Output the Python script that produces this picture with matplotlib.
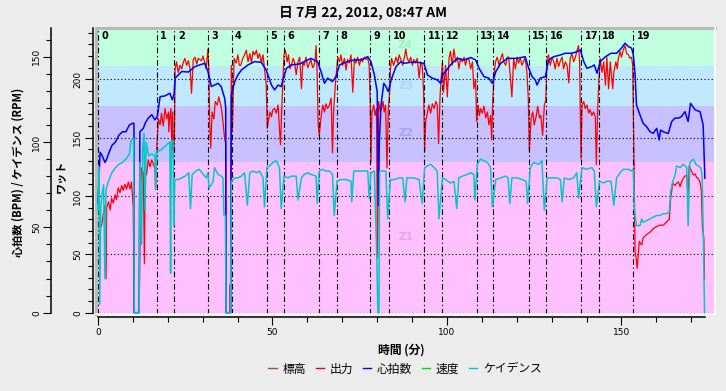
import matplotlib
matplotlib.use("Agg")
import matplotlib.pyplot as plt
from matplotlib.lines import Line2D
from matplotlib.ticker import MultipleLocator

JP = ['Noto Sans CJK JP', 'DejaVu Sans']

title = "日 7月 22, 2012, 08:47 AM"
x_label = "時間 (分)"
hr_label = "心拍数 (BPM) / ケイデンス (RPM)"
watt_label = "ワット"
legend_names = ["標高", "出力", "心拍数", "速度", "ケイデンス"]
legend_colors = ["#806040", "#ff0000", "#0000ff", "#00e000", "#00c8c8"]

# lap start times (minutes)
lap_starts = [0, 16.8, 21.9, 31.6, 38.3, 48.3, 53.2, 63.2, 68.4, 78.0,
              83.5, 93.5, 98.6, 108.5, 113.3, 123.4, 128.5, 138.5, 143.5, 153.4]

# power zones (watts)
zone_edges = [-5, 129.4, 177.1, 211.4, 260]
zone_names = ["Z1", "Z2", "Z3", "Z4"]
zone_label_at = [64.7, 154, 194.5, 229.5]
zone_colors = ["#ffc0ff", "#c8c0ff", "#c0e8ff", "#c0ffe0"]
zone_text = ["#f0a0f0", "#a8a0f8", "#a0d8ff", "#a0f0c8"]

# heart rate (min, bpm)
heart_rate = [
    (0.0, 64), (0.3, 79), (0.6, 94), (1.2, 92), (2.0, 88), (2.5, 90), (3.0, 93),
    (4.0, 98), (5.0, 100), (6.0, 104), (7.0, 106), (8.0, 106), (9.0, 110),
    (10.0, 111), (10.3, 111), (10.4, 0), (11.8, 0), (12.0, 106), (13.0, 108),
    (13.5, 111), (14.4, 114), (15.4, 116), (16.3, 113), (17.0, 115), (17.8, 126.6),
    (19.2, 127), (20.6, 128.6), (21.3, 124.7), (21.8, 128), (22.1, 137.4),
    (23.0, 139.3), (24.0, 141.3), (25.9, 141), (27.8, 144.2), (29.2, 145.2),
    (30.6, 146.1), (31.5, 141.3), (32.5, 132.5), (33.4, 133.4), (34.4, 134.4),
    (35.3, 132.5), (36.3, 125.6), (36.6, 120), (36.7, 0), (38.0, 0), (38.2, 127.6),
    (39.2, 135.4), (40.1, 139.3), (41.1, 142.2), (43.0, 145.2), (44.9, 147.1),
    (46.8, 146.7), (48.2, 142.2), (49.7, 133.4), (50.6, 130.5), (51.6, 133.4),
    (52.5, 132.5), (53.0, 136.4), (54.0, 143.2), (55.4, 145.2), (57.3, 145.6),
    (58.2, 146.1), (61.0, 149), (62.9, 147.1), (63.9, 141.3), (64.9, 134.4),
    (65.8, 137.4), (67.2, 135.4), (68.2, 138.3), (69.2, 145.2), (71.5, 147.1),
    (73.5, 148.1), (75.4, 148.1), (77.3, 150), (78.2, 147.1), (79.2, 139.3),
    (80.0, 129.5), (80.2, 100), (80.4, 63), (80.6, 100), (81.1, 121.7),
    (81.9, 134.4), (82.5, 132.5), (83.2, 129.5), (84.0, 136.4), (85.4, 144.2),
    (86.8, 147.1), (87.7, 146.1), (89.6, 146.7), (91.5, 146.7), (93.4, 146.1),
    (94.4, 139.3), (95.8, 137.4), (97.2, 136.4), (98.2, 134.4), (98.7, 139.3),
    (99.6, 141.3), (101.0, 145.2), (103.0, 149), (104.9, 148.1), (106.8, 149.5),
    (108.2, 148.1), (109.2, 143.2), (110.6, 138.3), (112.0, 137.4), (113.0, 134.4),
    (114.0, 141.3), (115.4, 146.1), (117.3, 149), (120.1, 149), (122.4, 150),
    (123.4, 143.2), (124.4, 138.3), (125.3, 136.4), (125.8, 133.4), (126.7, 137.4),
    (128.2, 138.3), (129.1, 148.1), (130.6, 150), (132.5, 151), (133.9, 152),
    (135.8, 152), (137.3, 153), (138.2, 154), (139.2, 147.1), (140.1, 143.2),
    (141.5, 144.2), (142.2, 145.2), (143.0, 140.3), (143.9, 147.1), (145.4, 150),
    (147.0, 152), (148.6, 152), (150.0, 155), (151.0, 157.9), (152.0, 155.9),
    (152.9, 155), (153.4, 151), (153.9, 139.3), (154.3, 121.7), (155.3, 115.9),
    (156.2, 111), (157.2, 109), (158.2, 106), (159.1, 105.1), (160.1, 108),
    (160.8, 101.2), (161.2, 107), (162.0, 106), (163.4, 105), (164.4, 112),
    (165.3, 114), (166.3, 114), (167.2, 114.9), (168.2, 117.8), (169.1, 112),
    (169.8, 122.7), (171.1, 118.8), (172.5, 117.8), (173.4, 110), (173.9, 78.8),
]

# cadence (min, rpm)
cadence = [
    (0.0, 60), (0.3, 85), (0.5, 5), (0.8, 62), (1.2, 70), (1.6, 75), (2.0, 20),
    (2.3, 72), (3.0, 77), (4.0, 82), (5.0, 85), (6.0, 87), (7.0, 88), (8.0, 90),
    (9.0, 93), (9.5, 101), (10.2, 102), (10.4, 0), (11.8, 0), (12.0, 88),
    (12.5, 40), (12.8, 95), (13.2, 105), (13.5, 60), (13.8, 100), (14.5, 92),
    (15.4, 93), (16.3, 92), (16.5, 72), (16.8, 95), (17.8, 95), (19.0, 97),
    (20.0, 99), (20.6, 100), (20.8, 23), (21.0, 100), (21.5, 101), (21.7, 51),
    (22.0, 78), (23.0, 78), (24.0, 79), (25.0, 80), (26.0, 82), (26.5, 61),
    (27.0, 81), (28.0, 83), (29.0, 84), (30.6, 80), (31.0, 79), (31.5, 82),
    (31.8, 73), (32.5, 75), (33.0, 77), (33.4, 85), (33.9, 83), (34.4, 81),
    (35.3, 80), (35.8, 79), (36.1, 57), (36.5, 57), (36.7, 0), (38.0, 0),
    (38.2, 77), (39.2, 79), (40.1, 79), (41.1, 80), (42.0, 82), (42.8, 63),
    (43.5, 82), (44.4, 83), (45.4, 82), (46.3, 83), (47.3, 79), (47.7, 62),
    (48.4, 85), (49.2, 86), (50.1, 88), (51.1, 89), (52.0, 85), (52.5, 61),
    (53.3, 80), (54.4, 79), (55.4, 80), (56.8, 80), (57.3, 66), (58.3, 79),
    (59.1, 81), (60.1, 82), (61.0, 81), (62.5, 80), (62.8, 64), (63.4, 83),
    (64.4, 84), (65.3, 83), (66.3, 83), (67.2, 81), (67.7, 57), (68.5, 77),
    (69.6, 78), (71.1, 78), (72.5, 77), (72.7, 65), (73.3, 83), (74.4, 83),
    (75.8, 83), (77.3, 83), (77.7, 67), (78.2, 82), (79.2, 83), (79.9, 32),
    (80.2, 0), (80.5, 0), (80.7, 83), (81.6, 83), (82.5, 83), (83.0, 55),
    (83.8, 78), (84.9, 78), (86.3, 79), (87.3, 79), (88.0, 65), (88.5, 79),
    (90.5, 79), (92.0, 78), (92.9, 64), (93.6, 85), (94.4, 86), (95.3, 87),
    (96.3, 85), (97.2, 83), (97.7, 55), (98.7, 79), (99.6, 78), (101.0, 76),
    (102.0, 77), (102.8, 61), (103.4, 79), (104.4, 80), (105.8, 81), (106.8, 82),
    (107.7, 81), (108.0, 66), (108.7, 87), (109.6, 90), (110.6, 89), (111.6, 88),
    (112.5, 85), (113.0, 62), (114.0, 78), (115.4, 79), (116.8, 80), (117.5, 79),
    (118.0, 64), (118.6, 79), (120.1, 79), (121.5, 78), (122.7, 77), (123.1, 64),
    (123.9, 85), (124.8, 88), (126.3, 87), (127.2, 89), (127.9, 60), (128.7, 79),
    (130.1, 79), (131.5, 79), (132.5, 78), (133.0, 65), (133.6, 79), (134.9, 78),
    (136.3, 79), (137.2, 82), (137.7, 67), (138.7, 85), (140.1, 84), (141.5, 85),
    (142.2, 83), (142.8, 62), (143.7, 77), (144.9, 76), (145.8, 77), (147.0, 77),
    (147.8, 63), (148.6, 79), (149.6, 82), (150.5, 84), (152.0, 84), (152.9, 83),
    (153.4, 84), (153.7, 60), (154.3, 51), (155.3, 51), (155.8, 55), (156.2, 53),
    (157.2, 54), (158.2, 55), (159.1, 56), (160.1, 57), (161.0, 57), (162.0, 58),
    (163.0, 58), (163.7, 59), (164.1, 71), (164.7, 77), (165.3, 80), (165.8, 86),
    (166.8, 85), (167.7, 87), (168.7, 85), (169.1, 51), (169.6, 88), (170.6, 90),
    (171.3, 87), (172.0, 86), (172.7, 85), (173.1, 81), (173.5, 40), (173.8, 0),
]

# power (min, watts)
power = [
    (0.0, 78), (0.6, 72), (1.05, 75), (1.5, 84), (2.0, 92), (2.3, 29), (2.5, 90),
    (3.0, 95), (3.5, 88), (3.9, 98), (4.4, 94), (4.9, 101), (5.3, 97), (5.8, 107),
    (6.3, 103), (6.8, 109), (7.2, 105), (7.7, 110), (8.2, 106), (8.7, 112),
    (9.2, 106), (9.6, 112), (10.1, 90), (10.2, 58), (10.3, 0), (11.8, 0),
    (12.0, 60), (12.3, 110), (12.5, 124), (13.0, 120), (13.3, 42), (13.5, 126),
    (13.9, 118), (14.4, 131), (14.9, 125), (15.4, 131), (15.9, 127), (16.3, 124),
    (16.5, 107), (16.8, 140), (17.3, 166), (17.8, 161), (18.2, 171), (18.7, 160),
    (19.2, 175), (19.7, 166), (20.2, 172), (20.3, 155), (20.6, 168), (20.9, 175),
    (21.2, 140), (21.4, 172), (21.6, 132), (21.9, 150), (22.1, 209), (22.5, 215),
    (23.0, 206), (23.5, 212), (24.0, 209), (24.5, 215), (24.9, 218), (25.4, 212),
    (25.9, 216), (26.4, 209), (26.8, 188), (27.3, 217), (27.8, 219), (28.3, 213),
    (28.7, 218), (29.6, 216), (30.1, 220), (30.6, 214), (31.0, 209), (31.5, 226),
    (31.8, 206), (32.0, 164), (32.3, 141), (32.7, 172), (33.2, 166), (33.6, 181),
    (34.2, 178), (34.6, 185), (35.2, 178), (35.5, 172), (35.9, 161), (36.3, 149),
    (36.6, 145), (36.7, 0), (37.8, 0), (37.9, 24), (38.0, 0), (38.1, 150),
    (38.2, 212), (38.5, 155), (39.0, 218), (39.6, 214), (40.1, 221), (40.5, 212),
    (40.9, 212), (41.5, 218), (42.0, 221), (42.5, 225), (43.0, 215), (43.5, 222),
    (44.0, 214), (44.4, 224), (44.9, 221), (45.4, 225), (45.8, 218), (46.3, 222),
    (46.8, 214), (47.3, 221), (47.7, 209), (48.2, 196), (48.5, 158), (48.9, 166),
    (49.3, 172), (49.7, 168), (50.1, 174), (50.6, 175), (51.1, 171), (51.6, 178),
    (52.05, 155), (52.3, 144), (52.7, 178), (53.3, 221), (53.7, 225), (54.2, 215),
    (54.6, 221), (55.0, 209), (55.4, 212), (55.9, 218), (56.3, 215), (56.8, 204),
    (57.3, 215), (57.8, 219), (58.3, 192), (58.7, 215), (59.1, 212), (59.6, 219),
    (60.1, 210), (60.6, 214), (61.0, 217), (61.5, 210), (61.8, 211), (62.2, 216),
    (62.5, 229), (62.8, 205), (63.1, 161), (63.4, 152), (63.9, 167), (64.4, 178),
    (64.9, 172), (65.3, 179), (65.8, 175), (66.3, 178), (66.8, 184), (67.2, 137),
    (67.5, 172), (68.0, 195), (68.7, 219), (69.2, 215), (69.6, 221), (70.1, 212),
    (70.6, 218), (71.1, 208), (71.5, 217), (72.0, 214), (72.5, 221), (73.0, 189),
    (73.5, 218), (73.9, 214), (74.4, 219), (74.9, 212), (75.4, 218), (75.8, 215),
    (76.3, 219), (76.8, 217), (77.3, 218), (77.7, 212), (78.0, 180), (78.2, 129),
    (78.5, 172), (79.0, 178), (79.4, 169), (79.8, 175), (80.1, 47), (80.4, 181),
    (80.9, 172), (81.3, 175), (81.7, 181), (82.0, 172), (82.4, 178), (82.8, 124),
    (83.2, 175), (83.6, 190), (83.8, 209), (84.1, 218), (84.7, 212), (85.4, 219),
    (85.9, 214), (86.3, 221), (86.8, 217), (87.3, 212), (87.8, 219), (88.2, 226),
    (88.6, 218), (89.1, 215), (89.6, 219), (90.1, 212), (90.5, 217), (91.0, 214),
    (91.5, 218), (92.0, 201), (92.5, 215), (92.9, 212), (93.3, 190), (93.6, 138),
    (93.9, 164), (94.4, 172), (94.8, 178), (95.3, 171), (95.8, 179), (96.3, 175),
    (96.8, 181), (97.2, 178), (97.6, 145), (98.0, 184), (98.2, 195), (98.7, 215),
    (99.0, 189), (99.6, 212), (100.1, 185), (100.6, 218), (101.0, 224), (101.5, 212),
    (102.0, 226), (102.5, 215), (103.0, 219), (103.4, 209), (103.9, 218),
    (104.4, 215), (104.9, 219), (105.3, 212), (105.8, 218), (106.3, 217),
    (106.8, 209), (107.3, 215), (107.7, 192), (108.2, 200), (108.5, 164),
    (108.9, 178), (109.3, 169), (109.6, 175), (110.1, 171), (110.6, 177),
    (111.1, 167), (111.6, 172), (112.0, 161), (112.5, 169), (112.8, 148),
    (113.1, 181), (113.5, 204), (113.9, 215), (114.4, 219), (114.9, 212),
    (115.4, 218), (115.9, 222), (116.3, 215), (116.8, 212), (117.3, 219),
    (117.7, 219), (118.1, 204), (118.6, 185), (119.1, 218), (119.6, 209),
    (120.1, 219), (120.5, 214), (121.0, 218), (121.5, 212), (122.0, 216),
    (122.4, 219), (122.9, 206), (123.3, 184), (123.6, 138), (124.1, 167),
    (124.6, 172), (125.0, 161), (125.6, 169), (126.0, 177), (126.5, 167),
    (126.9, 169), (127.4, 152), (127.9, 178), (128.3, 182), (128.7, 218),
    (129.1, 221), (129.6, 212), (130.1, 219), (130.6, 215), (131.0, 209),
    (131.5, 218), (132.0, 211), (132.5, 216), (133.0, 219), (133.4, 209),
    (133.9, 215), (134.4, 212), (134.9, 197), (135.3, 218), (135.8, 222),
    (136.3, 215), (136.8, 219), (137.2, 224), (137.7, 229), (138.0, 215),
    (138.4, 132), (138.7, 178), (139.2, 181), (139.6, 175), (140.1, 178),
    (140.6, 171), (141.0, 174), (141.5, 169), (142.0, 172), (142.5, 168),
    (142.8, 127), (143.2, 175), (143.5, 198), (143.9, 218), (144.4, 206),
    (144.9, 215), (145.4, 195), (145.8, 219), (146.3, 192), (146.8, 215),
    (147.2, 201), (147.5, 192), (147.8, 206), (148.4, 215), (148.8, 209),
    (149.1, 218), (149.6, 224), (150.0, 219), (150.5, 225), (151.0, 229),
    (151.5, 222), (152.0, 221), (152.4, 218), (152.9, 219), (153.2, 212),
    (153.6, 129), (153.9, 52), (154.2, 47), (154.5, 38), (155.1, 61), (155.8, 58),
    (156.2, 64), (157.2, 67), (158.2, 69), (159.1, 72), (160.1, 74), (161.0, 75),
    (162.0, 75), (163.0, 78), (163.7, 80), (164.1, 98), (164.7, 111), (165.3, 109),
    (165.8, 111), (166.3, 112), (166.8, 108), (167.2, 112), (167.7, 115),
    (168.2, 117), (168.7, 118), (169.1, 98), (169.4, 126), (170.1, 121),
    (170.6, 118), (171.1, 119), (171.5, 116), (172.0, 115), (172.5, 112),
    (172.9, 104), (173.2, 72), (173.6, 64), (173.8, 29),
]

hr_t, hr_v = zip(*heart_rate)
cad_t, cad_v = zip(*cadence)
pw_t, pw_v = zip(*power)

W, H = 726, 391
fig = plt.figure(figsize=(W / 100, H / 100), dpi=100, facecolor="#ececec")
ax = fig.add_axes([96 / W, 1 - 314 / H, 619 / W, 286 / H])
ax.set_xlim(-0.57, 176.8)
ax.set_ylim(-1.1, 244)

# zones
for lo, hi, c in zip(zone_edges[:-1], zone_edges[1:], zone_colors):
    ax.axhspan(lo, hi, color=c, lw=0, zorder=0)
for name, yv, c in zip(zone_names, zone_label_at, zone_text):
    ax.text(0.5, yv, name, transform=ax.get_yaxis_transform(), ha="center",
            va="center", fontsize=7.5, fontweight="bold", color=c, zorder=1)

for g in [0, 50, 100, 150, 200]:
    ax.axhline(g, color="black", lw=0.8, ls=(0, (1, 2.2)), zorder=1)

ax.plot(pw_t, pw_v, color="#ff0000", lw=0.9, zorder=3)

for i, t in enumerate(lap_starts):
    ax.axvline(t, color="black", lw=0.8, ls=(0, (5, 2.5, 1.2, 2.5)), zorder=4)
    ax.annotate(str(i), (t, 1), xycoords=ax.get_xaxis_transform(),
                xytext=(2.5, -6), textcoords="offset points", ha="left", va="center",
                fontsize=7, fontweight="bold", color="black", zorder=6)

# frame
ax.plot([0, 0, 1], [0, 1, 1], transform=ax.transAxes, color="#b8b8b8", lw=2.2,
        clip_on=False, zorder=7)
ax.plot([0, 1, 1], [0, 0, 1], transform=ax.transAxes, color="white", lw=1.2,
        clip_on=False, zorder=7)

for s in ["top", "right"]:
    ax.spines[s].set_visible(False)
ax.spines["left"].set_position(("outward", 2))
ax.spines["left"].set_bounds(0, 244)
ax.spines["bottom"].set_position(("outward", 2.2))
ax.spines["bottom"].set_bounds(0, 174)
ax.spines["left"].set_linewidth(1.1)
ax.spines["bottom"].set_linewidth(1.1)

ax.set_xticks([0, 50, 100, 150])
ax.xaxis.set_minor_locator(MultipleLocator(10))
ax.set_yticks([0, 50, 100, 150, 200])
ax.yaxis.set_minor_locator(MultipleLocator(10))
ax.tick_params(which="major", length=6, width=0.8, labelsize=6.5, pad=2)
ax.tick_params(which="minor", length=3.5, width=0.8)
for lbl in ax.get_yticklabels():
    lbl.set_rotation(90)
    lbl.set_va("center")

# heart rate / cadence axis
ax_h = ax.twinx()
ax_h.set_ylim(-0.76, 166.8)
ax_h.plot(hr_t, hr_v, color="#0000ff", lw=1.1, zorder=3)
ax_h.plot(cad_t, cad_v, color="#00c8c8", lw=1.1, zorder=4)
for s in ["top", "right", "bottom"]:
    ax_h.spines[s].set_visible(False)
ax_h.spines["left"].set_visible(True)
ax_h.spines["left"].set_position(("outward", 32.6))
ax_h.spines["left"].set_bounds(0, 166.8)
ax_h.spines["left"].set_linewidth(1.1)
ax_h.yaxis.tick_left()
ax_h.set_yticks([0, 50, 100, 150])
ax_h.yaxis.set_minor_locator(MultipleLocator(10))
ax_h.tick_params(which="major", length=6, width=0.8, labelsize=6.5, pad=1)
ax_h.tick_params(which="minor", length=3.5, width=0.8)
for lbl in ax_h.get_yticklabels():
    lbl.set_rotation(90)
    lbl.set_va("center")

# texts
fig.text(363 / W, 1 - 13 / H, title, ha="center", va="center", fontsize=10,
         fontweight="bold", family=JP)
fig.text(18 / W, 1 - 172 / H, hr_label, rotation=90, ha="center", va="center",
         fontsize=8, fontweight="bold", family=JP)
fig.text(61 / W, 1 - 176 / H, watt_label, rotation=90, ha="center", va="center",
         fontsize=8, fontweight="bold", family=JP)
fig.text(401 / W, 1 - 350 / H, x_label, ha="center", va="center", fontsize=8.5,
         fontweight="bold", family=JP)

handles = [Line2D([], [], color=c, lw=1) for c in legend_colors]
fig.legend(handles, legend_names, loc="center", bbox_to_anchor=(405 / W, 1 - 369 / H),
           ncol=5, frameon=False, handlelength=0.7, handletextpad=0.5,
           columnspacing=0.8, prop={"family": JP, "size": 8.5})

fig.savefig("out.png", dpi=100, facecolor=fig.get_facecolor())
